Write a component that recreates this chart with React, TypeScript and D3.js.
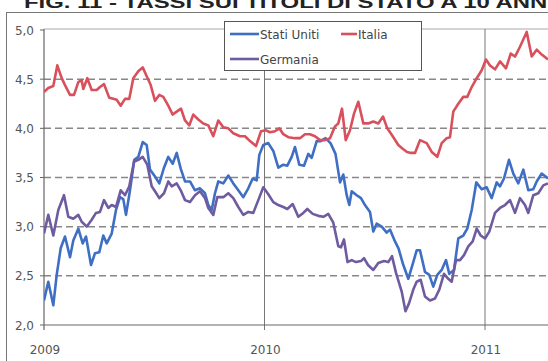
import React from "react";
import * as d3 from "d3";

const title = "FIG. 11 - TASSI SUI TITOLI DI STATO A 10 ANNI";
const yTicks = [2.0, 2.5, 3.0, 3.5, 4.0, 4.5, 5.0];
const yearTicks = [2009, 2010, 2011];
const seriesNames = ["Stati Uniti", "Italia", "Germania"];

// [year (decimal), yield %]
const statiUniti: [number, number][] = [
  [2009.0, 2.25], [2009.0195, 2.44], [2009.0422, 2.2], [2009.0576, 2.51], [2009.0757, 2.78],
  [2009.0952, 2.9], [2009.1179, 2.69], [2009.1329, 2.86], [2009.1556, 2.98], [2009.1755, 2.83],
  [2009.1905, 2.9], [2009.2132, 2.61], [2009.2313, 2.73], [2009.2508, 2.74], [2009.2689, 2.91],
  [2009.2844, 2.83], [2009.307, 2.93], [2009.3265, 3.17], [2009.3447, 3.3], [2009.3596, 3.28],
  [2009.3719, 3.12], [2009.39, 3.37], [2009.4095, 3.68], [2009.4277, 3.71], [2009.4476, 3.86],
  [2009.4658, 3.83], [2009.4807, 3.58], [2009.5034, 3.51], [2009.5229, 3.44], [2009.5442, 3.6],
  [2009.5637, 3.71], [2009.5837, 3.64], [2009.6018, 3.75], [2009.62, 3.59], [2009.6395, 3.46],
  [2009.6621, 3.46], [2009.6848, 3.37], [2009.7075, 3.39], [2009.7302, 3.34], [2009.7451, 3.22],
  [2009.7605, 3.17], [2009.7755, 3.34], [2009.7905, 3.46], [2009.8132, 3.44], [2009.8358, 3.52],
  [2009.8585, 3.44], [2009.8812, 3.37], [2009.9039, 3.3], [2009.9265, 3.39], [2009.9465, 3.49],
  [2009.9646, 3.47], [2009.9764, 3.73], [2009.9945, 3.83], [2010.0172, 3.85], [2010.0399, 3.77],
  [2010.0626, 3.6], [2010.0853, 3.63], [2010.1034, 3.62], [2010.1233, 3.71], [2010.1383, 3.81],
  [2010.1578, 3.63], [2010.1791, 3.62], [2010.1986, 3.74], [2010.214, 3.7], [2010.2367, 3.87],
  [2010.2549, 3.87], [2010.2766, 3.9], [2010.2993, 3.85], [2010.322, 3.74], [2010.3424, 3.45],
  [2010.3573, 3.53], [2010.3728, 3.32], [2010.3846, 3.22], [2010.3955, 3.36], [2010.4181, 3.32],
  [2010.4376, 3.29], [2010.4557, 3.22], [2010.4784, 3.15], [2010.4934, 2.95], [2010.5088, 3.03],
  [2010.5315, 3.0], [2010.5541, 2.94], [2010.5691, 2.97], [2010.5918, 2.85], [2010.6077, 2.78],
  [2010.6281, 2.62], [2010.6521, 2.47], [2010.6748, 2.64], [2010.6902, 2.76], [2010.7052, 2.76],
  [2010.7278, 2.54], [2010.7473, 2.51], [2010.7655, 2.39], [2010.7837, 2.51], [2010.8036, 2.56],
  [2010.8231, 2.66], [2010.8381, 2.52], [2010.8594, 2.56], [2010.8789, 2.88], [2010.9016, 2.91],
  [2010.9197, 2.98], [2010.9397, 3.17], [2010.9605, 3.45], [2010.985, 3.38], [2011.0077, 3.4],
  [2011.0303, 3.29], [2011.053, 3.45], [2011.068, 3.41], [2011.0861, 3.49], [2011.1088, 3.68],
  [2011.1283, 3.54], [2011.151, 3.44], [2011.1737, 3.58], [2011.1963, 3.37], [2011.219, 3.38],
  [2011.2345, 3.46], [2011.2571, 3.54], [2011.2857, 3.49],
];

const italia: [number, number][] = [
  [2009.0, 4.37], [2009.0195, 4.41], [2009.0422, 4.43], [2009.0603, 4.64], [2009.0803, 4.51],
  [2009.0952, 4.44], [2009.1179, 4.34], [2009.1361, 4.34], [2009.1556, 4.47], [2009.171, 4.49],
  [2009.1782, 4.4], [2009.1964, 4.51], [2009.2163, 4.39], [2009.239, 4.39], [2009.254, 4.42],
  [2009.2721, 4.45], [2009.2961, 4.31], [2009.3143, 4.3], [2009.3297, 4.29], [2009.3478, 4.23],
  [2009.3673, 4.3], [2009.3868, 4.3], [2009.405, 4.51], [2009.4277, 4.58], [2009.4476, 4.62],
  [2009.4658, 4.53], [2009.4839, 4.44], [2009.5034, 4.28], [2009.5229, 4.34], [2009.541, 4.32],
  [2009.5637, 4.23], [2009.5837, 4.14], [2009.6018, 4.17], [2009.6213, 4.2], [2009.6395, 4.08],
  [2009.659, 4.03], [2009.6771, 4.14], [2009.6998, 4.09], [2009.7224, 4.05], [2009.7451, 4.03],
  [2009.7678, 3.92], [2009.7905, 4.08], [2009.8132, 4.01], [2009.8358, 4.0], [2009.8585, 3.95],
  [2009.8889, 3.92], [2009.9116, 3.92], [2009.9342, 3.87], [2009.9615, 3.82], [2009.9841, 3.97],
  [2010.0068, 3.98], [2010.0249, 3.96], [2010.0476, 3.97], [2010.0671, 4.0], [2010.0853, 3.94],
  [2010.1079, 3.91], [2010.1383, 3.9], [2010.161, 3.9], [2010.1837, 3.94], [2010.2063, 3.94],
  [2010.229, 3.92], [2010.2517, 3.88], [2010.2744, 3.88], [2010.2971, 3.9], [2010.3197, 4.02],
  [2010.3347, 4.05], [2010.3515, 4.2], [2010.3683, 3.88], [2010.3878, 3.98], [2010.4059, 4.15],
  [2010.4254, 4.27], [2010.4481, 4.05], [2010.4707, 4.05], [2010.4934, 4.07], [2010.5161, 4.05],
  [2010.5374, 4.12], [2010.5569, 4.0], [2010.5814, 3.92], [2010.6068, 3.83], [2010.6281, 3.79],
  [2010.6463, 3.76], [2010.6644, 3.75], [2010.6825, 3.75], [2010.7052, 3.88], [2010.7356, 3.85],
  [2010.7583, 3.76], [2010.7837, 3.71], [2010.8036, 3.85], [2010.8263, 3.9], [2010.8413, 3.91],
  [2010.8562, 4.17], [2010.8789, 4.25], [2010.9016, 4.32], [2010.9197, 4.32], [2010.9397, 4.42],
  [2010.9624, 4.51], [2010.985, 4.59], [2011.0045, 4.7], [2011.0227, 4.64], [2011.0454, 4.6],
  [2011.068, 4.68], [2011.0952, 4.61], [2011.1166, 4.76], [2011.1361, 4.73], [2011.1587, 4.83],
  [2011.1891, 4.98], [2011.2118, 4.73], [2011.2345, 4.8], [2011.2571, 4.75], [2011.2857, 4.7],
];

const germania: [number, number][] = [
  [2009.0, 2.93], [2009.0195, 3.12], [2009.0422, 2.91], [2009.0649, 3.17], [2009.0907, 3.32],
  [2009.1102, 3.1], [2009.1329, 3.08], [2009.1556, 3.12], [2009.171, 3.05], [2009.1936, 3.0],
  [2009.2163, 3.07], [2009.2358, 3.14], [2009.254, 3.15], [2009.2721, 3.27], [2009.2916, 3.19],
  [2009.307, 3.22], [2009.3265, 3.2], [2009.3478, 3.37], [2009.3673, 3.32], [2009.3868, 3.41],
  [2009.4082, 3.66], [2009.4277, 3.68], [2009.4476, 3.71], [2009.4685, 3.63], [2009.4884, 3.41],
  [2009.5034, 3.36], [2009.5229, 3.29], [2009.5442, 3.34], [2009.5637, 3.46], [2009.5791, 3.41],
  [2009.6018, 3.44], [2009.62, 3.37], [2009.6395, 3.27], [2009.6621, 3.25], [2009.6848, 3.32],
  [2009.7075, 3.36], [2009.7302, 3.29], [2009.7451, 3.19], [2009.7678, 3.12], [2009.7859, 3.3],
  [2009.8132, 3.3], [2009.8358, 3.34], [2009.8585, 3.29], [2009.8812, 3.2], [2009.9039, 3.12],
  [2009.9265, 3.15], [2009.9492, 3.14], [2009.9719, 3.27], [2009.9945, 3.4], [2010.0172, 3.33],
  [2010.0399, 3.25], [2010.0626, 3.22], [2010.0853, 3.2], [2010.1034, 3.18], [2010.1279, 3.23],
  [2010.1533, 3.1], [2010.1759, 3.14], [2010.1941, 3.18], [2010.2186, 3.13], [2010.244, 3.11],
  [2010.2667, 3.1], [2010.2893, 3.13], [2010.312, 3.04], [2010.3347, 2.8], [2010.3469, 2.79],
  [2010.3605, 2.87], [2010.3764, 2.64], [2010.3955, 2.66], [2010.415, 2.64], [2010.4376, 2.65],
  [2010.4512, 2.68], [2010.4694, 2.61], [2010.4934, 2.56], [2010.5161, 2.63], [2010.542, 2.65],
  [2010.5614, 2.64], [2010.5782, 2.7], [2010.5964, 2.53], [2010.6222, 2.34], [2010.6394, 2.14],
  [2010.6553, 2.22], [2010.6748, 2.36], [2010.6902, 2.44], [2010.7083, 2.46], [2010.7278, 2.29],
  [2010.7505, 2.25], [2010.7732, 2.27], [2010.7927, 2.36], [2010.814, 2.52], [2010.8335, 2.47],
  [2010.8489, 2.44], [2010.8685, 2.66], [2010.8866, 2.66], [2010.9047, 2.71], [2010.9243, 2.8],
  [2010.9442, 2.85], [2010.9624, 2.98], [2010.9805, 2.91], [2011.0, 2.88], [2011.0195, 2.95],
  [2011.0454, 3.14], [2011.068, 3.19], [2011.0907, 3.22], [2011.1134, 3.27], [2011.1361, 3.14],
  [2011.1587, 3.29], [2011.1814, 3.22], [2011.1963, 3.14], [2011.219, 3.32], [2011.2417, 3.34],
  [2011.2644, 3.42], [2011.2857, 3.44],
];

const colors = ["#3f6fc4", "#d9505c", "#6f5ba0"];

export default function App() {
  const W = 548;
  const H = 361;
  const left = 44;
  const top = 30;
  const bottom = 325;
  const x = d3.scaleLinear().domain([2009, 2011]).range([left, 485]);
  const y = d3.scaleLinear().domain([2.0, 5.0]).range([bottom, top]);
  const line = d3
    .line<[number, number]>()
    .x((d) => x(d[0]))
    .y((d) => y(d[1]));
  const series = [statiUniti, italia, germania];
  const font = "'DejaVu Sans', Verdana, sans-serif";
  const labelColor = "#555";

  return (
    <svg
      width={W}
      height={H}
      style={{ position: "absolute", left: 0, top: 0, background: "#fff" }}
    >
      <defs>
        <clipPath id="plot">
          <rect x={left} y={top - 4} width={W - left} height={bottom - top + 6} />
        </clipPath>
      </defs>
      {/* title (cut off at top) */}
      <text
        x={24}
        y={8}
        fontFamily="'Liberation Sans', Arial, sans-serif"
        fontWeight="bold"
        fontSize={16}
        fill="#222"
        textLength={530}
        lengthAdjust="spacingAndGlyphs"
      >
        {title}
      </text>
      {/* outer frame */}
      <rect x={6.5} y={12.5} width={W} height={H} fill="none" stroke="#777" strokeWidth={1} />

      {/* top border */}
      <line x1={left} x2={W} y1={top - 1} y2={top - 1} stroke="#aaa" strokeWidth={1} />
      {/* dashed gridlines */}
      {yTicks
        .filter((t) => t > 2.0 && t < 5.0)
        .map((t) => (
          <line
            key={t}
            x1={left}
            x2={W}
            y1={y(t)}
            y2={y(t)}
            stroke="#888"
            strokeWidth={1.5}
            strokeDasharray="7,4"
          />
        ))}
      {/* year vertical lines */}
      {yearTicks
        .filter((t) => t > 2009)
        .map((t) => (
          <line key={t} x1={x(t)} x2={x(t)} y1={top - 1} y2={bottom + 5} stroke="#777" strokeWidth={1} />
        ))}
      {/* axes */}
      <line x1={left} x2={left} y1={top - 1} y2={bottom + 5} stroke="#666" strokeWidth={1.2} />
      <line x1={left} x2={W} y1={bottom} y2={bottom} stroke="#666" strokeWidth={1.2} />
      {yTicks.map((t) => (
        <g key={t}>
          <line x1={left - 4} x2={left} y1={y(t)} y2={y(t)} stroke="#666" strokeWidth={1} />
          <text
            x={34}
            y={y(t) + 4.5}
            textAnchor="end"
            fontFamily={font}
            fontSize={12}
            fill={labelColor}
          >
            {t.toFixed(1).replace(".", ",")}
          </text>
        </g>
      ))}
      {yearTicks.map((t) => (
        <text
          key={t}
          x={x(t) + 1}
          y={354}
          textAnchor="middle"
          fontFamily={font}
          fontSize={12}
          fill={labelColor}
        >
          {t}
        </text>
      ))}

      {/* series */}
      <g clipPath="url(#plot)">
        {series.map((s, i) => (
          <path
            key={i}
            d={line(s) || ""}
            fill="none"
            stroke={colors[i]}
            strokeWidth={2.6}
            strokeLinejoin="round"
          />
        ))}
      </g>

      {/* legend */}
      <rect x={224.5} y={21.5} width={197} height={49} fill="#fff" stroke="#555" strokeWidth={1} />
      <line x1={230} x2={259} y1={34} y2={34} stroke={colors[0]} strokeWidth={2.6} />
      <text x={260} y={38.5} fontFamily={font} fontSize={12} fill="#444">
        {seriesNames[0]}
      </text>
      <line x1={341} x2={357} y1={34} y2={34} stroke={colors[1]} strokeWidth={2.6} />
      <text x={358} y={38.5} fontFamily={font} fontSize={12} fill="#444">
        {seriesNames[1]}
      </text>
      <line x1={230} x2={259} y1={59} y2={59} stroke={colors[2]} strokeWidth={2.6} />
      <text x={260} y={63.5} fontFamily={font} fontSize={12} fill="#444">
        {seriesNames[2]}
      </text>
    </svg>
  );
}
